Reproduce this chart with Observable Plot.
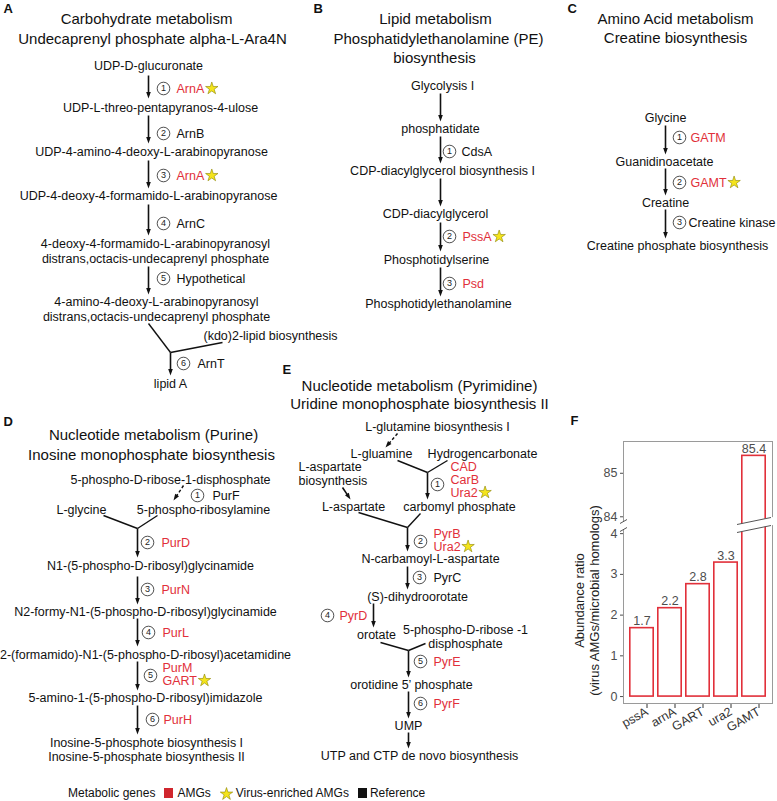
<!DOCTYPE html>
<html>
<head>
<meta charset="utf-8">
<script src="https://cdn.jsdelivr.net/npm/d3@7"></script>
<script src="https://cdn.jsdelivr.net/npm/@observablehq/plot@0.6"></script>
<style>
  body { margin: 0; background: #fff; font-family: 'Liberation Sans', Arial, Helvetica, sans-serif; }
  #wrap { position: relative; width: 777px; height: 801px; overflow: hidden; background: #fff; }
  #main { position: absolute; left: 0; top: 0; }
  #panelF { position: absolute; left: 560px; top: 400px; width: 217px; height: 345px; }
  #fUpper { position: absolute; left: 0; top: 0; }
  #fLower { position: absolute; left: 0; top: 125px; }
  #legend { position: absolute; left: 68px; top: 786px; font-size: 12px; color: #111;
            display: flex; align-items: center; white-space: nowrap; line-height: 14px; }
  #legend .sq { display: inline-block; width: 9px; height: 10px; }
</style>
</head>
<body>
<div id="wrap">
  <div id="main"></div>
  <div id="panelF"><div id="fUpper"></div><div id="fLower"></div></div>
  <div id="legend"></div>
</div>
<script>
// ====================== DATA ======================
const panelLetters = ["A", "B", "C", "D", "E", "F"];

// Panel A
const titlesA = ["Carbohydrate metabolism", "Undecaprenyl phosphate alpha-L-Ara4N"];
const compoundsA = [
  "UDP-D-glucuronate",
  "UDP-L-threo-pentapyranos-4-ulose",
  "UDP-4-amino-4-deoxy-L-arabinopyranose",
  "UDP-4-deoxy-4-formamido-L-arabinopyranose",
  "4-deoxy-4-formamido-L-arabinopyranosyl\ndistrans,octacis-undecaprenyl phosphate",
  "4-amino-4-deoxy-L-arabinopyranosyl\ndistrans,octacis-undecaprenyl phosphate",
  "(kdo)2-lipid biosynthesis",
  "lipid A"
];
const stepsA = [1, 2, 3, 4, 5, 6];
const genesA = ["ArnA", "ArnB", "ArnA", "ArnC", "Hypothetical", "ArnT"];
const classA = ["Virus-enriched AMGs", "Reference", "Virus-enriched AMGs", "Reference", "Reference", "Reference"];

// Panel B
const titlesB = ["Lipid metabolism", "Phosphatidylethanolamine (PE)", "biosynthesis"];
const compoundsB = ["Glycolysis I", "phosphatidate", "CDP-diacylglycerol biosynthesis I",
  "CDP-diacylglycerol", "Phosphotidylserine", "Phosphotidylethanolamine"];
const stepsB = [1, 2, 3];
const genesB = ["CdsA", "PssA", "Psd"];
const classB = ["Reference", "Virus-enriched AMGs", "AMGs"];

// Panel C
const titlesC = ["Amino Acid metabolism", "Creatine biosynthesis"];
const compoundsC = ["Glycine", "Guanidinoacetate", "Creatine", "Creatine phosphate biosynthesis"];
const stepsC = [1, 2, 3];
const genesC = ["GATM", "GAMT", "Creatine kinase"];
const classC = ["AMGs", "Virus-enriched AMGs", "Reference"];

// Panel D
const titlesD = ["Nucleotide metabolism (Purine)", "Inosine monophosphate biosynthesis"];
const compoundsD = [
  "5-phospho-D-ribose-1-disphosphate",
  "L-glycine",
  "5-phospho-ribosylamine",
  "N1-(5-phospho-D-ribosyl)glycinamide",
  "N2-formy-N1-(5-phospho-D-ribosyl)glycinamide",
  "2-(formamido)-N1-(5-phospho-D-ribosyl)acetamidine",
  "5-amino-1-(5-phospho-D-ribosyl)imidazole",
  "Inosine-5-phosphote biosynthesis I\nInosine-5-phosphate biosynthesis II"
];
const stepsD = [1, 2, 3, 4, 5, 6];
const genesD = ["PurF", "PurD", "PurN", "PurL", "PurM", "GART", "PurH"];
const classD = ["Reference", "AMGs", "AMGs", "AMGs", "AMGs", "Virus-enriched AMGs", "AMGs"];

// Panel E
const titlesE = ["Nucleotide metabolism (Pyrimidine)", "Uridine monophosphate biosynthesis II"];
const compoundsE = [
  "L-glutamine biosynthesis I",
  "L-gluamine",
  "Hydrogencarbonate",
  "L-aspartate\nbiosynthesis",
  "L-aspartate",
  "carbomyl phosphate",
  "N-carbamoyl-L-aspartate",
  "(S)-dihydroorotate",
  "orotate",
  "5-phospho-D-ribose -1\ndisphosphate",
  "orotidine 5\u2019 phosphate",
  "UMP",
  "UTP and CTP de novo biosynthesis"
];
const stepsE = [1, 2, 3, 4, 5, 6];
const genesE = ["CAD", "CarB", "Ura2", "PyrB", "Ura2", "PyrC", "PyrD", "PyrE", "PyrF"];
const classE = ["AMGs", "AMGs", "Virus-enriched AMGs", "AMGs", "Virus-enriched AMGs",
  "Reference", "AMGs", "AMGs", "AMGs"];

// Panel F (bar chart)
const genesF = ["pssA", "arnA", "GART", "ura2", "GAMT"];
const ratioF = [1.68, 2.17, 2.76, 3.29, 85.4];
const yTicksF = [0, 1, 2, 3, 4, 84, 85];
const yBreakF = [4.2, 83.8];
const yExtentF = [-0.17, 85.73];
const axisTitleF = ["Abundance ratio", "(virus AMGs/microbial homologs)"];

// Legend
const legendTitle = "Metabolic genes";
const legendKeys = ["AMGs", "Virus-enriched AMGs", "Reference"];

// ====================== LAYOUT (pixel positions) ======================
const letterPos = [[3, 8], [313, 8], [567, 8], [3, 421], [282, 369]];

const titlePosA = [[146, 19], [152, 39]];
const titlePosB = [[435, 19], [438, 38.5], [434, 58]];
const titlePosC = [[675, 19], [675, 38]];
const titlePosD = [[153, 435], [151, 455]];
const titlePosE = [[419, 386], [419, 404]];

const compoundPosA = [[148, 65], [160, 107], [151, 151], [148, 195], [155, 250.5], [156, 308.5], [203, 335, "start"], [170, 383]];
const stepPosA = [[163, 88], [163, 133], [163, 175], [163, 223], [163, 278], [183, 363]];
const genePosA = [[176, 88], [176, 133], [176, 175], [176, 223], [176, 278], [197, 363]];
const arrowsA = [[148, 75, 148, 98], [148, 115, 148, 143], [148, 160, 148, 188], [148, 204, 148, 235], [148, 266, 148, 294], [170, 352, 170, 375]];
const linesA = [[148, 323, 170, 352], [222, 342, 170, 352]];

const compoundPosB = [[442, 85], [440, 128], [442, 170], [435, 213], [436, 259], [438, 303]];
const stepPosB = [[449, 151], [449, 236], [449, 283]];
const genePosB = [[461, 151], [462, 236], [462, 283]];
const arrowsB = [[440, 93, 440, 121], [440, 136, 440, 163], [440, 178, 440, 206], [440, 222, 440, 251], [440, 267, 440, 296]];

const compoundPosC = [[665, 117], [664, 161], [665, 202], [677, 245]];
const stepPosC = [[679, 137], [679, 182], [679, 222]];
const genePosC = [[690, 137], [690, 182], [688, 222]];
const arrowsC = [[665, 125, 665, 154], [665, 168, 665, 195], [665, 209, 665, 238]];

const compoundPosD = [[170, 479], [81, 509], [203, 509], [150, 565], [145, 611], [145, 654], [145, 697], [146, 749]];
const stepPosD = [[197, 495], [147, 542], [147, 589], [148, 632], [150, 675], [152, 719]];
const genePosD = [[212, 495], [161, 542], [161, 589], [162, 632], [162, 667], [162, 680], [163, 719]];
const arrowsD = [[183, 485, 173, 500, true], [137, 528, 137, 557], [137, 576, 137, 604], [137, 618, 137, 646], [137, 661, 137, 690], [137, 705, 137, 734]];
const linesD = [[103, 515, 137, 528], [157, 515, 137, 528]];

const compoundPosE = [[437, 426], [381, 453], [482, 453], [298, 473, "start"], [353, 506], [459, 506], [430, 558], [417, 596], [376, 634], [465, 636], [411, 684], [408, 725], [419, 755]];
const stepPosE = [[437, 484], [420, 541], [419, 577], [327, 615], [420, 661], [420, 703]];
const genePosE = [[450, 466], [450, 479], [450, 492], [433, 533], [433, 546], [433, 577], [339, 615], [433, 661], [433, 703]];
const arrowsE = [[397, 433, 385, 447, true], [342, 487, 350, 499], [427, 472, 427, 499], [407, 527, 407, 551], [407, 566, 407, 589], [373, 603, 373, 627], [408, 650, 408, 677], [408, 691, 408, 718], [408, 732, 408, 748]];
const linesE = [[397, 460, 427, 472], [447, 460, 427, 472], [358, 512, 407, 527], [420, 513, 407, 527], [380, 642, 408, 650], [425, 643, 408, 650]];

// ====================== STYLE ======================
const FONT = "'Liberation Sans', Arial, Helvetica, sans-serif";
const RED = "#e1303a";
const RED_SWATCH = "#d0262e";
const INK = "#111111";
const YELLOW = "#f4e41c";
const STAR_EDGE = "#8c8400";
const TEXT_SIZE = 12.5;

// ====================== BUILD RECORDS ======================
const measureCtx = document.createElement("canvas").getContext("2d");
measureCtx.font = `${TEXT_SIZE}px 'Liberation Sans'`;
const textWidth = t => measureCtx.measureText(t).width;

const textRecs = (texts, pos) => texts.map((t, i) => ({text: t, x: pos[i][0], y: pos[i][1], anchor: pos[i][2] || "middle"}));
const stepRecs = (steps, pos) => steps.map((n, i) => ({n, x: pos[i][0], y: pos[i][1]}));
const geneRecs = (genes, cls, pos) => genes.map((g, i) => ({text: g, cls: cls[i], x: pos[i][0], y: pos[i][1]}));
const lineRecs = arr => arr.map(([x1, y1, x2, y2]) => ({x1, y1, x2, y2}));

const compounds = [
  ...textRecs(compoundsA, compoundPosA), ...textRecs(compoundsB, compoundPosB),
  ...textRecs(compoundsC, compoundPosC), ...textRecs(compoundsD, compoundPosD),
  ...textRecs(compoundsE, compoundPosE)
];
const titles = [
  ...textRecs(titlesA, titlePosA), ...textRecs(titlesB, titlePosB), ...textRecs(titlesC, titlePosC),
  ...textRecs(titlesD, titlePosD), ...textRecs(titlesE, titlePosE)
];
const letters = textRecs(panelLetters.slice(0, 5), letterPos);
const steps = [
  ...stepRecs(stepsA, stepPosA), ...stepRecs(stepsB, stepPosB), ...stepRecs(stepsC, stepPosC),
  ...stepRecs(stepsD, stepPosD), ...stepRecs(stepsE, stepPosE)
];
const genes = [
  ...geneRecs(genesA, classA, genePosA), ...geneRecs(genesB, classB, genePosB),
  ...geneRecs(genesC, classC, genePosC), ...geneRecs(genesD, classD, genePosD),
  ...geneRecs(genesE, classE, genePosE)
];
const stars = genes.filter(d => d.cls === "Virus-enriched AMGs")
  .map(d => ({x: d.x + textWidth(d.text) + 7.5, y: d.y}));
const branchLines = [...lineRecs(linesA), ...lineRecs(linesD), ...lineRecs(linesE)];
const arrows = [...arrowsA, ...arrowsB, ...arrowsC, ...arrowsD, ...arrowsE].map(([x1, y1, x2, y2, dash]) => {
  const L = Math.hypot(x2 - x1, y2 - y1), ux = (x2 - x1) / L, uy = (y2 - y1) / L;
  return {x1, y1, x2: x2 - ux * 4, y2: y2 - uy * 4, hx: x2, hy: y2,
          rot: Math.atan2(uy, ux) * 180 / Math.PI - 90, dash: !!dash};
});

// arrow head symbol (tip at origin, pointing down)
const headSymbol = {
  draw(ctx, size) {
    const k = Math.sqrt(size / Math.PI) / 3;
    ctx.moveTo(0, 0); ctx.lineTo(-2.3 * k, -6.5 * k); ctx.lineTo(2.3 * k, -6.5 * k); ctx.closePath();
  }
};

// ====================== MAIN DIAGRAM ======================
const W = 777, H = 782;
const main = Plot.plot({
  width: W, height: H, margin: 0, axis: null,
  x: {domain: [0, W], range: [0, W]},
  y: {domain: [0, H], range: [0, H]},
  style: {fontFamily: FONT, fontSize: TEXT_SIZE + "px", background: "white", color: INK, overflow: "visible"},
  marks: [
    Plot.link(branchLines, {x1: "x1", y1: "y1", x2: "x2", y2: "y2", stroke: INK, strokeWidth: 1.4}),
    Plot.link(arrows.filter(d => !d.dash), {x1: "x1", y1: "y1", x2: "x2", y2: "y2", stroke: INK, strokeWidth: 1.6}),
    Plot.link(arrows.filter(d => d.dash), {x1: "x1", y1: "y1", x2: "x2", y2: "y2", stroke: INK, strokeWidth: 1.4, strokeDasharray: "3,2.2"}),
    Plot.dot(arrows, {x: "hx", y: "hy", rotate: "rot", symbol: headSymbol, r: 3, fill: INK, stroke: "none"}),
    Plot.text(compounds.filter(d => d.anchor === "middle"), {x: "x", y: "y", text: "text", fontSize: TEXT_SIZE, lineHeight: 1.15, fill: INK, textAnchor: "middle", lineAnchor: "middle"}),
    Plot.text(compounds.filter(d => d.anchor === "start"), {x: "x", y: "y", text: "text", fontSize: TEXT_SIZE, lineHeight: 1.15, fill: INK, textAnchor: "start", lineAnchor: "middle"}),
    Plot.text(titles, {x: "x", y: "y", text: "text", fontSize: 15, fill: INK, textAnchor: "middle", lineAnchor: "middle"}),
    Plot.text(letters, {x: "x", y: "y", text: "text", fontSize: 13, fontWeight: "bold", fill: INK, textAnchor: "start", lineAnchor: "middle"}),
    Plot.dot(steps, {x: "x", y: "y", r: 6.3, fill: "white", stroke: "#222", strokeWidth: 0.8}),
    Plot.text(steps, {x: "x", y: "y", text: d => String(d.n), fontSize: 9, fill: "#222", textAnchor: "middle", lineAnchor: "middle"}),
    Plot.text(genes.filter(d => d.cls === "Reference"), {x: "x", y: "y", text: "text", fontSize: TEXT_SIZE, fill: INK, textAnchor: "start", lineAnchor: "middle"}),
    Plot.text(genes.filter(d => d.cls !== "Reference"), {x: "x", y: "y", text: "text", fontSize: TEXT_SIZE, fill: RED, textAnchor: "start", lineAnchor: "middle"}),
    Plot.dot(stars, {x: "x", y: "y", symbol: "star", r: 3.9, fill: YELLOW, stroke: STAR_EDGE, strokeWidth: 0.6})
  ]
});
document.getElementById("main").append(main);

// ====================== PANEL F (broken y axis: two stacked plots) ======================
const dataF = genesF.map((g, i) => ({gene: g, ratio: ratioF[i]}));
const brokenBars = dataF.filter(d => d.ratio > yBreakF[1]);

const gapSymbol = {
  draw(c, s) {
    const k = Math.sqrt(s / Math.PI) / 10;
    c.moveTo(-19 * k, 7.4 * k); c.lineTo(19 * k, -0.4 * k); c.lineTo(19 * k, -8.4 * k); c.lineTo(-19 * k, -0.6 * k); c.closePath();
  }
};
const gapLines = {
  draw(c, s) {
    const k = Math.sqrt(s / Math.PI) / 10;
    c.moveTo(-17 * k, 7 * k); c.lineTo(17 * k, 0);
    c.moveTo(-17 * k, -1 * k); c.lineTo(17 * k, -8 * k);
  }
};
const axisGap = {
  draw(c, s) {
    const k = Math.sqrt(s / Math.PI) / 10;
    c.moveTo(-2 * k, -4 * k); c.lineTo(2 * k, -4 * k); c.lineTo(2 * k, 4 * k); c.lineTo(-2 * k, 4 * k); c.closePath();
  }
};
const axisSlashes = {
  draw(c, s) {
    const k = Math.sqrt(s / Math.PI) / 10;
    c.moveTo(-3.5 * k, -2 * k); c.lineTo(3.5 * k, -6 * k);
    c.moveTo(-3.5 * k, 6 * k); c.lineTo(3.5 * k, 2 * k);
  }
};

const fW = 217, fL = 63, fR = 5;
const FRAME = "#9a9a9a", TICK = "#4d4d4d";
const intFmt = d3.format("d");
const xF = {domain: genesF, paddingInner: 0.094, paddingOuter: 0.14, label: null, axis: null};
const fStyle = {fontFamily: FONT, fontSize: "12.5px", background: "transparent", overflow: "visible"};

// upper part (above the break)
const fUpper = Plot.plot({
  width: fW, height: 125, marginLeft: fL, marginRight: fR, marginTop: 41, marginBottom: 0,
  style: fStyle,
  x: xF,
  y: {domain: [yBreakF[1], yExtentF[1]], label: null, axis: null},
  marks: [
    Plot.frame({anchor: "top", stroke: FRAME}),
    Plot.frame({anchor: "left", stroke: FRAME}),
    Plot.frame({anchor: "right", stroke: FRAME}),
    Plot.barY(dataF, {x: "gene", y: "ratio", fill: "white", stroke: RED, strokeWidth: 1.6, insetLeft: 0.8, insetRight: 0.8, clip: true}),
    Plot.text(brokenBars, {x: "gene", y: "ratio", text: d => d.ratio.toFixed(1), dy: -7, fill: TICK, fontSize: 12.5}),
    Plot.axisY({ticks: yTicksF.filter(t => t > yBreakF[1]), tickFormat: intFmt, tickSize: 3, tickPadding: 3, color: TICK, fontSize: 12.5, label: null}),
    Plot.text([panelLetters[5]], {frameAnchor: "top-left", text: d => d, dx: -53, dy: -21, fontSize: 13, fontWeight: "bold", fill: INK, textAnchor: "start", lineAnchor: "middle"})
  ]
});
document.getElementById("fUpper").append(fUpper);

// lower part (below the break)
const fLower = Plot.plot({
  width: fW, height: 220, marginLeft: fL, marginRight: fR, marginTop: 0, marginBottom: 42,
  style: fStyle,
  x: xF,
  y: {domain: [yExtentF[0], yBreakF[0]], label: null, axis: null},
  marks: [
    Plot.frame({anchor: "bottom", stroke: FRAME}),
    Plot.frame({anchor: "left", stroke: FRAME}),
    Plot.frame({anchor: "right", stroke: FRAME}),
    Plot.barY(dataF, {x: "gene", y: "ratio", fill: "white", stroke: RED, strokeWidth: 1.6, insetLeft: 0.8, insetRight: 0.8, clip: true}),
    Plot.text(dataF.filter(d => d.ratio < yBreakF[0]), {x: "gene", y: "ratio", text: d => d.ratio.toFixed(1), dy: -7, fill: TICK, fontSize: 12.5}),
    Plot.dot(brokenBars, {x: "gene", y: () => yBreakF[0], symbol: gapSymbol, r: 10, fill: "white", stroke: "none"}),
    Plot.dot(brokenBars, {x: "gene", y: () => yBreakF[0], symbol: gapLines, r: 10, fill: "none", stroke: "#555", strokeWidth: 1}),
    Plot.dot([yBreakF[0]], {y: d => d, frameAnchor: "left", symbol: axisGap, r: 10, fill: "white", stroke: "none"}),
    Plot.dot([yBreakF[0]], {y: d => d, frameAnchor: "left", symbol: axisSlashes, r: 10, fill: "none", stroke: "#555", strokeWidth: 1}),
    Plot.axisY({ticks: yTicksF.filter(t => t < yBreakF[0]), tickFormat: intFmt, tickSize: 3, tickPadding: 3, color: TICK, fontSize: 12.5, label: null}),
    Plot.axisX({tickRotate: -30, tickSize: 4, tickPadding: 2, dx: 5, dy: 1, color: "#333", fontSize: 12.5, label: null}),
    Plot.text([axisTitleF[0]], {frameAnchor: "left", text: d => d, rotate: -90, dx: -44, dy: -14, fontSize: 13, fill: "#222", textAnchor: "middle", lineAnchor: "middle"}),
    Plot.text([axisTitleF[1]], {frameAnchor: "left", text: d => d, rotate: -90, dx: -29, dy: -14, fontSize: 13, fill: "#222", textAnchor: "middle", lineAnchor: "middle"})
  ]
});
document.getElementById("fLower").append(fLower);

// ====================== LEGEND ======================
const starPath = d3.symbol(d3.symbolStar, 48)();
const legend = document.getElementById("legend");
const swatch = {
  "AMGs": `<span class="sq" style="background:${RED_SWATCH}"></span>`,
  "Virus-enriched AMGs": `<svg width="13" height="13" viewBox="-6.5 -6.5 13 13" style="display:block"><path d="${starPath}" transform="translate(0,0.6)" fill="${YELLOW}" stroke="${STAR_EDGE}" stroke-width="0.6"/></svg>`,
  "Reference": `<span class="sq" style="background:${INK}"></span>`
};
let html = `<span>${legendTitle}</span>`;
legendKeys.forEach((k, i) => {
  html += `<span style="margin-left:9px;display:inline-flex">${swatch[k]}</span><span style="margin-left:${i === 0 ? 4 : 3}px">${k}</span>`;
});
legend.innerHTML = html;
</script>
</body>
</html>
